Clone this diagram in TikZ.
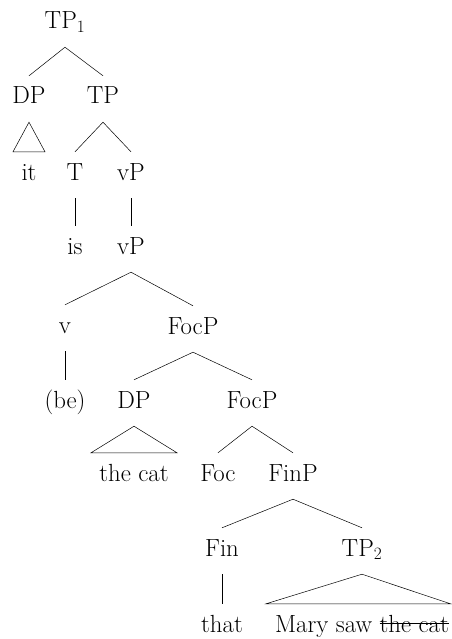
\documentclass[tikz,border=0pt]{standalone}
\usetikzlibrary{calc}
\newcommand{\mystrike}[1]{\setbox0=\hbox{#1}\rlap{\rule[0.36em]{\wd0}{0.55pt}}\box0}
\tikzset{
  lbl/.style={anchor=base, font=\fontsize{24.8}{29}\selectfont, text height=15pt, text depth=5pt, inner xsep=0pt, inner ysep=13pt},
  edge/.style={line width=0.5pt}
}
\begin{document}
\begin{tikzpicture}[x=1pt,y=-1pt]
\useasboundingbox (0,0) rectangle (451,639);
% level 0
\node[lbl] (TPa) at (65,29) {TP$_1$};
% level 1
\node[lbl] (DPa) at (29,104) {DP};
\node[lbl] (TPb) at (103,104) {TP};
% level 2
\node[lbl] (it) at (29,180) {it};
\node[lbl] (T) at (75,180) {T};
\node[lbl] (vPa) at (131,180) {vP};
% level 3
\node[lbl] (is) at (75,254) {is};
\node[lbl] (vPb) at (131,254) {vP};
% level 4
\node[lbl] (v) at (65,333) {v};
\node[lbl] (FocPa) at (193,334) {FocP};
% level 5
\node[lbl] (be) at (65,408) {(be)};
\node[lbl] (DPb) at (134,408) {DP};
\node[lbl] (FocPb) at (252,408) {FocP};
% level 6
\node[lbl] (cat) at (134,481) {the cat};
\node[lbl] (Foc) at (218,481) {Foc};
\node[lbl] (FinP) at (293,481) {FinP};
% level 7
\node[lbl] (Fin) at (222,556) {Fin};
\node[lbl] (TPc) at (362,556) {TP$_2$};
% level 8
\node[lbl] (that) at (222,632) {that};
\node[lbl] (Mary) at (362,632) {Mary saw \mystrike{the cat}};

% edges
\draw[edge] (DPa.north) -- (TPa.south) -- (TPb.north);
\draw[edge] (T.north) -- (TPb.south) -- (vPa.north);
\draw[edge] (T.south) -- (is.north);
\draw[edge] (vPa.south) -- (vPb.north);
\draw[edge] (v.north) -- (vPb.south) -- (FocPa.north);
\draw[edge] (v.south) -- (be.north);
\draw[edge] (DPb.north) -- (FocPa.south) -- (FocPb.north);
\draw[edge] (Foc.north) -- (FocPb.south) -- (FinP.north);
\draw[edge] (Fin.north) -- (FinP.south) -- (TPc.north);
\draw[edge] (Fin.south) -- (that.north);
% roofs
\draw[edge] (DPa.south) -- ($(it.north)+(-16,0)$) -- ($(it.north)+(16,0)$) -- cycle;
\draw[edge] (DPb.south) -- ($(cat.north)+(-43,0)$) -- ($(cat.north)+(43,0)$) -- cycle;
\draw[edge] (TPc.south) -- ($(Mary.north)+(-96,0)$) -- ($(Mary.north)+(88.5,0)$) -- cycle;
\end{tikzpicture}
\end{document}
